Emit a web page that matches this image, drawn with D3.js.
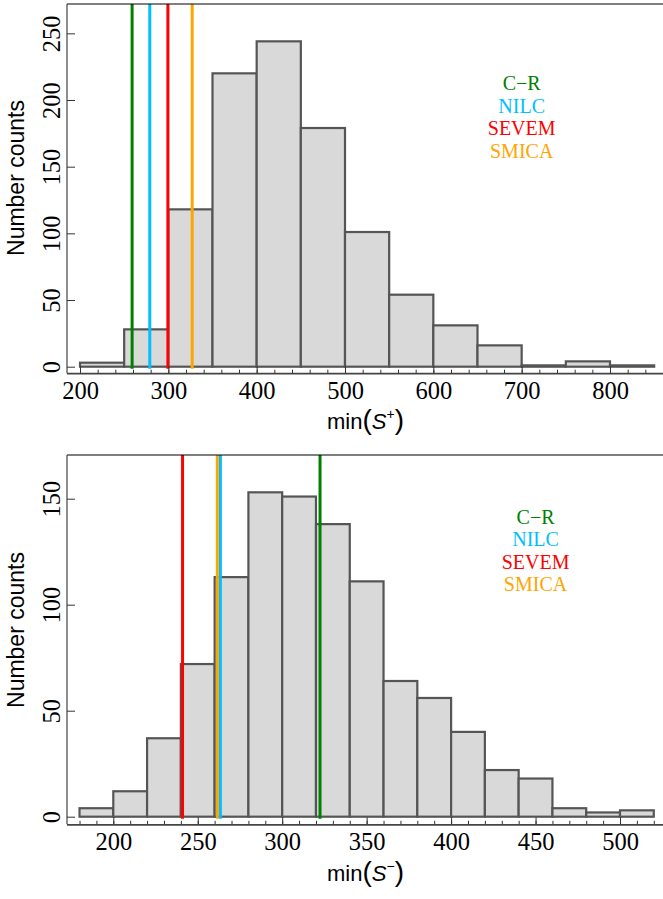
<!DOCTYPE html>
<html>
<head>
<meta charset="utf-8">
<script src="https://cdn.jsdelivr.net/npm/d3@7"></script>
<style>
  html, body { margin: 0; padding: 0; background: #fff; }
  svg { display: block; }
</style>
</head>
<body>
<div id="chart"></div>
<script>
// ---------------- DATA ----------------
// Top panel: histogram of min(S+)
const topBinStart = 200;
const topBinWidth = 50;
const topCounts = [3, 28, 118, 220, 244, 179, 101, 54, 31, 16, 1, 4, 1];
const topXTicks = [200, 300, 400, 500, 600, 700, 800];
const topYTicks = [0, 50, 100, 150, 200, 250];
const topMapNames = ["C\u2212R", "NILC", "SEVEM", "SMICA"];
const topMapValues = [259, 279, 299.5, 327];

// Bottom panel: histogram of min(S-)
const botBinStart = 180;
const botBinWidth = 20;
const botCounts = [4, 12, 37, 72, 113, 153, 151, 138, 111, 64, 56, 40, 22, 18, 4, 2, 3];
const botXTicks = [200, 250, 300, 350, 400, 450, 500];
const botYTicks = [0, 50, 100, 150];
const botMapNames = ["C\u2212R", "NILC", "SEVEM", "SMICA"];
const botMapValues = [322.4, 263.4, 241, 261.6];

const mapColors = ["#008000", "#00bfff", "#ff0000", "#ffa500"];

// ---------------- LAYOUT ----------------
const W = 663, H = 899;
const svg = d3.select("#chart").append("svg").attr("width", W).attr("height", H);

const SERIF = "'Liberation Serif', 'Times New Roman', serif";
const SANS = "'Liberation Sans', Arial, Helvetica, sans-serif";

function panel(cfg) {
  const g = svg.append("g");
  const left = 67, right = 664;
  const x = d3.scaleLinear().domain(cfg.xRef).range(cfg.xPix);
  const y = d3.scaleLinear().domain([0, cfg.yPerPx[0]]).range([cfg.zeroY, cfg.zeroY - cfg.yPerPx[1]]);
  const axisY = cfg.zeroY + cfg.axisOff;

  const bins = cfg.counts.map((c, i) => ({
    x0: cfg.binStart + i * cfg.binWidth,
    x1: cfg.binStart + (i + 1) * cfg.binWidth,
    c: c
  }));

  // bars
  g.append("g").selectAll("rect").data(bins).join("rect")
    .attr("x", d => x(d.x0))
    .attr("y", d => y(d.c))
    .attr("width", d => x(d.x1) - x(d.x0))
    .attr("height", d => y(0) - y(d.c))
    .attr("fill", "#d9d9d9")
    .attr("stroke", "#555")
    .attr("stroke-width", 2.2);

  // vertical map lines
  g.append("g").selectAll("line").data(cfg.mapValues).join("line")
    .attr("x1", d => x(d)).attr("x2", d => x(d))
    .attr("y1", cfg.zeroY + 2).attr("y2", cfg.topY)
    .attr("stroke", (d, i) => mapColors[i])
    .attr("stroke-width", 3);

  // frame: top line and left line
  g.append("line").attr("x1", left).attr("x2", right).attr("y1", cfg.topY).attr("y2", cfg.topY)
    .attr("stroke", "#000").attr("stroke-width", 1.2);
  g.append("line").attr("x1", left).attr("x2", left).attr("y1", cfg.topY).attr("y2", axisY)
    .attr("stroke", "#444").attr("stroke-width", 1.2);

  // x axis minor ticks
  const minor = d3.range(cfg.minorStart, cfg.minorEnd + 0.001, cfg.minorStep);
  g.append("g").attr("transform", `translate(0,${axisY})`)
    .call(d3.axisBottom(x).tickValues(minor).tickSize(-3.5).tickSizeOuter(0).tickFormat(""))
    .call(s => s.select(".domain").remove())
    .call(s => s.selectAll("line").attr("stroke", "#333").attr("stroke-width", 1));

  // x axis major
  const xa = g.append("g").attr("transform", `translate(0,${axisY})`)
    .call(d3.axisBottom(x).tickValues(cfg.xTicks).tickSize(-7).tickSizeOuter(0).tickPadding(8).tickFormat(d3.format("d")));
  xa.select(".domain").attr("d", `M${left},0.5H${right}`).attr("stroke", "#444").attr("stroke-width", 1.8);
  xa.selectAll(".tick line").attr("stroke", "#333").attr("stroke-width", 1);
  xa.selectAll("text").attr("font-family", SERIF).attr("font-size", 24.5).attr("fill", "#000");

  // y axis
  const ya = g.append("g").attr("transform", `translate(${left},0)`)
    .call(d3.axisLeft(y).tickValues(cfg.yTicks).tickSize(-8).tickFormat(d3.format("d")));
  ya.select(".domain").remove();
  ya.selectAll(".tick line").attr("stroke", "#333").attr("stroke-width", 1);
  ya.selectAll("text")
    .attr("transform", "rotate(-90)")
    .attr("x", 0).attr("y", -7).attr("dy", 0)
    .attr("text-anchor", "middle")
    .attr("font-family", SERIF).attr("font-size", 24.5).attr("fill", "#000");

  // y label
  g.append("text")
    .attr("transform", `translate(24,${cfg.yLabelY}) rotate(-90)`)
    .attr("text-anchor", "middle")
    .attr("font-family", SANS).attr("font-size", 23).attr("fill", "#000")
    .text("Number counts");

  // x label
  const xl = g.append("text")
    .attr("x", (left + right) / 2).attr("y", axisY + cfg.xLabelOff)
    .attr("text-anchor", "middle")
    .attr("font-family", SANS).attr("font-size", 22).attr("fill", "#000");
  xl.append("tspan").text("min");
  xl.append("tspan").attr("font-size", 28).attr("font-weight", 300).text("(");
  xl.append("tspan").attr("font-style", "italic").text("S");
  xl.append("tspan").attr("font-size", 14).attr("dy", -10).text(cfg.sign);
  xl.append("tspan").attr("font-size", 28).attr("dy", 10).attr("font-weight", 300).text(")");

  // legend: one line per map
  g.append("g").selectAll("text").data(cfg.mapNames).join("text")
    .attr("x", x(cfg.legendX))
    .attr("y", (d, i) => cfg.legendY + i * cfg.legendStep)
    .attr("text-anchor", "middle")
    .attr("font-family", SERIF).attr("font-size", 20)
    .attr("fill", (d, i) => mapColors[i])
    .text(d => d);
}

panel({
  counts: topCounts, binStart: topBinStart, binWidth: topBinWidth,
  xRef: [200, 800], xPix: [80, 610],
  yPerPx: [272, 362.7], zeroY: 366.7, topY: 4, axisOff: 6.5,
  xTicks: topXTicks, yTicks: topYTicks,
  minorStart: 200, minorEnd: 840, minorStep: 20,
  mapValues: topMapValues, mapNames: topMapNames,
  legendX: 700, legendY: 90, legendStep: 22.5,
  yLabelY: 178, sign: "+", xLabelOff: 56
});

panel({
  counts: botCounts, binStart: botBinStart, binWidth: botBinWidth,
  xRef: [200, 500], xPix: [113.3, 620],
  yPerPx: [170.6, 361.7], zeroY: 816.7, topY: 455, axisOff: 7.6,
  xTicks: botXTicks, yTicks: botYTicks,
  minorStart: 180, minorEnd: 520, minorStep: 10,
  mapValues: botMapValues, mapNames: botMapNames,
  legendX: 450, legendY: 523.5, legendStep: 22.5,
  yLabelY: 630, sign: "\u2212", xLabelOff: 57
});
</script>
</body>
</html>
